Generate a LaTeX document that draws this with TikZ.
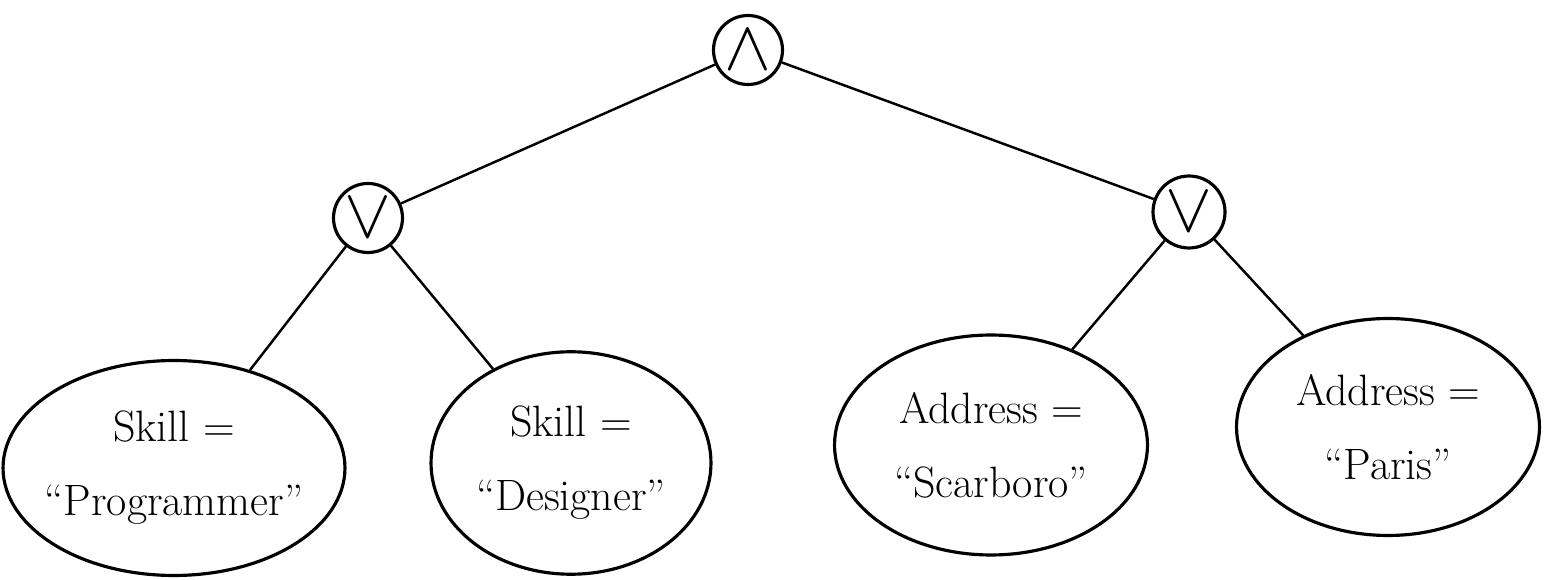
\documentclass[tikz,border=0pt]{standalone}
\usepackage{graphicx}
\usetikzlibrary{shapes.geometric}
\begin{document}
\begin{tikzpicture}[x=0.02cm,y=-0.02cm,
  line width=1.8pt,
  opnode/.style={circle,draw,minimum size=1.38cm,inner sep=0pt},
  leafnode/.style={ellipse,draw,inner sep=-0.3cm,align=center,font=\fontsize{25}{42}\selectfont},
  edge/.style={draw,line width=1.4pt}]
\useasboundingbox (0,0) rectangle (1552,580);
\node[opnode] (root) at (748,50) {\scalebox{4}{$\wedge$}};
\node[opnode] (orL) at (368,218) {\scalebox{4}{$\vee$}};
\node[opnode,minimum size=1.44cm] (orR) at (1189,212) {\scalebox{4}{$\vee$}};
\node[leafnode,minimum width=6.84cm,minimum height=4.3cm] (prog) at (174,468) {Skill =\\``Programmer''};
\node[leafnode,minimum width=5.6cm,minimum height=4.45cm] (des) at (571,463) {Skill =\\``Designer''};
\node[leafnode,minimum width=6.26cm,minimum height=4.4cm] (scar) at (991,445) {Address =\\``Scarboro''};
\node[leafnode,minimum width=6.06cm,minimum height=4.34cm] (paris) at (1388,427) {Address =\\``Paris''};
\draw[edge] (root) -- (orL);
\draw[edge] (root) -- (orR);
\draw[edge] (orL) -- (prog);
\draw[edge] (orL) -- (des);
\draw[edge] (orR) -- (scar);
\draw[edge] (orR) -- (paris);
\end{tikzpicture}
\end{document}
